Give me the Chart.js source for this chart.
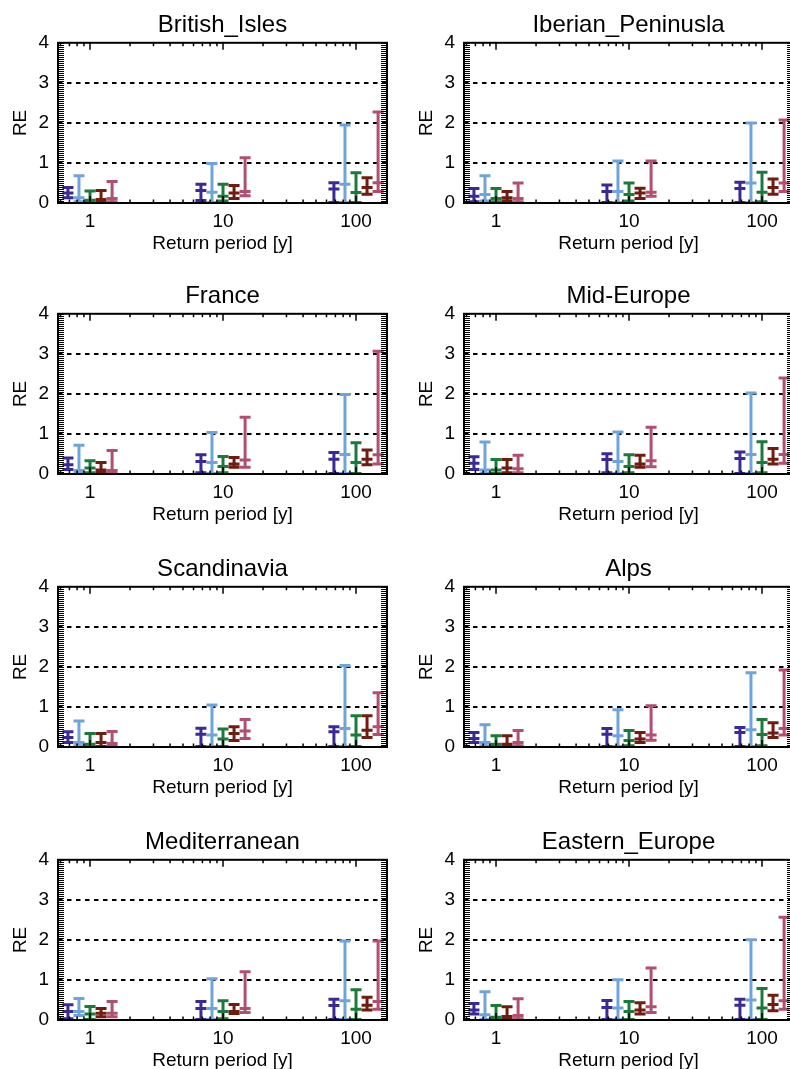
<!DOCTYPE html>
<html>
<head>
<meta charset="utf-8">
<script src="https://cdn.jsdelivr.net/npm/chart.js@4.4.1/dist/chart.umd.min.js"></script>
<style>
  html, body { margin: 0; padding: 0; background: #fff; }
  #wrap { position: relative; width: 790px; height: 1069px; overflow: hidden; }
  #wrap canvas { position: absolute; }
</style>
</head>
<body>
<div id="wrap"></div>
<script>
// regions, one panel each (reading order)
const regions = ['British_Isles', 'Iberian_Peninusla', 'France', 'Mid-Europe',
                 'Scandinavia', 'Alps', 'Mediterranean', 'Eastern_Europe'];
const periods = [1, 10, 100];
const yTicks = [0, 1, 2, 3, 4];
const seriesColors = ['#3b2a96', '#6fa4db', '#1b7a3a', '#701c0f', '#b24e70'];

// per region -> per series -> values at 1, 10, 100 y
const reLow = [
  [[0.12, 0.05, 0.0], [0.02, 0.0, 0.0], [0.0, 0.04, 0.0], [0.0, 0.10, 0.21], [0.02, 0.17, 0.28]],
  [[0.02, 0.0, 0.0], [0.04, 0.0, 0.0], [0.02, 0.04, 0.02], [0.04, 0.10, 0.21], [0.02, 0.16, 0.28]],
  [[0.10, 0.02, 0.0], [0.02, 0.0, 0.0], [0.02, 0.02, 0.0], [0.02, 0.16, 0.22], [0.02, 0.16, 0.24]],
  [[0.10, 0.02, 0.0], [0.0, 0.0, 0.0], [0.0, 0.02, 0.02], [0.02, 0.16, 0.24], [0.02, 0.17, 0.26]],
  [[0.10, 0.0, 0.0], [0.02, 0.0, 0.0], [0.0, 0.0, 0.0], [0.0, 0.15, 0.23], [0.02, 0.20, 0.30]],
  [[0.10, 0.0, 0.0], [0.02, 0.0, 0.0], [0.0, 0.02, 0.02], [0.0, 0.10, 0.23], [0.02, 0.16, 0.29]],
  [[0.02, 0.0, 0.0], [0.10, 0.0, 0.0], [0.0, 0.02, 0.0], [0.07, 0.15, 0.24], [0.07, 0.18, 0.26]],
  [[0.14, 0.0, 0.0], [0.0, 0.0, 0.0], [0.0, 0.0, 0.0], [0.02, 0.14, 0.22], [0.02, 0.18, 0.26]]
];
const reMid = [
  [[0.24, 0.30, 0.34], [0.12, 0.26, 0.46], [0.06, 0.16, 0.25], [0.08, 0.24, 0.38], [0.10, 0.28, 0.50]],
  [[0.16, 0.28, 0.35], [0.20, 0.28, 0.49], [0.10, 0.20, 0.26], [0.12, 0.24, 0.38], [0.10, 0.26, 0.49]],
  [[0.22, 0.30, 0.36], [0.08, 0.28, 0.48], [0.14, 0.18, 0.28], [0.09, 0.24, 0.36], [0.08, 0.34, 0.47]],
  [[0.26, 0.35, 0.38], [0.09, 0.30, 0.48], [0.09, 0.18, 0.28], [0.14, 0.24, 0.36], [0.12, 0.32, 0.48]],
  [[0.23, 0.31, 0.37], [0.10, 0.29, 0.45], [0.06, 0.19, 0.29], [0.10, 0.33, 0.41], [0.08, 0.39, 0.50]],
  [[0.20, 0.31, 0.35], [0.10, 0.27, 0.42], [0.06, 0.15, 0.30], [0.06, 0.19, 0.34], [0.10, 0.29, 0.45]],
  [[0.20, 0.28, 0.35], [0.20, 0.28, 0.47], [0.14, 0.20, 0.26], [0.16, 0.20, 0.36], [0.16, 0.28, 0.45]],
  [[0.24, 0.30, 0.36], [0.12, 0.29, 0.49], [0.06, 0.20, 0.29], [0.08, 0.24, 0.38], [0.10, 0.32, 0.47]]
];
const reHigh = [
  [[0.38, 0.46, 0.50], [0.67, 0.98, 1.94], [0.29, 0.46, 0.75], [0.30, 0.43, 0.62], [0.53, 1.12, 2.27]],
  [[0.35, 0.44, 0.51], [0.67, 1.04, 1.99], [0.35, 0.49, 0.76], [0.28, 0.36, 0.59], [0.49, 1.04, 2.07]],
  [[0.39, 0.47, 0.53], [0.71, 1.03, 1.98], [0.32, 0.43, 0.77], [0.28, 0.40, 0.59], [0.58, 1.41, 3.06]],
  [[0.42, 0.50, 0.54], [0.79, 1.04, 2.02], [0.35, 0.47, 0.80], [0.35, 0.46, 0.63], [0.46, 1.16, 2.39]],
  [[0.37, 0.46, 0.50], [0.64, 1.04, 2.03], [0.33, 0.44, 0.77], [0.33, 0.50, 0.77], [0.38, 0.68, 1.35]],
  [[0.35, 0.45, 0.48], [0.55, 0.92, 1.85], [0.27, 0.40, 0.68], [0.27, 0.35, 0.60], [0.40, 1.02, 1.92]],
  [[0.37, 0.45, 0.51], [0.53, 1.02, 1.97], [0.33, 0.47, 0.75], [0.28, 0.38, 0.56], [0.45, 1.20, 1.97]],
  [[0.40, 0.48, 0.51], [0.70, 1.00, 2.00], [0.35, 0.45, 0.78], [0.32, 0.42, 0.61], [0.52, 1.29, 2.56]]
];

const FONT = '"Liberation Sans", Arial, Helvetica, sans-serif';
const spread = 0.083; // decades between neighbouring bars of one period

// draws the range bars, the box and the little IDL style ticks
const rangeBars = {
  id: 'rangeBars',
  afterDatasetsDraw(chart) {
    const { ctx, chartArea: a, scales: { x, y } } = chart;
    ctx.save();
    ctx.lineWidth = 3;
    ctx.lineCap = 'butt';
    chart.data.datasets.forEach(ds => {
      ctx.strokeStyle = ds.borderColor;
      ds.data.forEach(p => {
        const px = x.getPixelForValue(p.x);
        const yl = y.getPixelForValue(p.lo);
        const ym = y.getPixelForValue(p.y);
        const yh = y.getPixelForValue(p.hi);
        ctx.beginPath();
        ctx.moveTo(px, yl); ctx.lineTo(px, yh);
        [yl, ym, yh].forEach(v => { ctx.moveTo(px - 5.5, v); ctx.lineTo(px + 5.5, v); });
        ctx.stroke();
      });
    });

    // minor ticks on y (both sides)
    ctx.strokeStyle = '#000';
    ctx.lineWidth = 1;
    ctx.beginPath();
    for (let v = 0; v <= 4.001; v += 0.05) {
      const py = Math.round(y.getPixelForValue(v)) + 0.5;
      ctx.moveTo(a.left, py); ctx.lineTo(a.left + 6, py);
      ctx.moveTo(a.right - 6, py); ctx.lineTo(a.right, py);
    }
    ctx.stroke();

    // log ticks on x (top and bottom)
    ctx.lineWidth = 1.5;
    ctx.beginPath();
    [0.1, 1, 10, 100].forEach(d => {
      for (let k = 1; k <= 9; k++) {
        const v = k * d;
        if (v < x.min || v > x.max) continue;
        const px = x.getPixelForValue(v);
        const len = k === 1 ? 7 : 3.5;
        ctx.moveTo(px, a.bottom); ctx.lineTo(px, a.bottom - len);
        ctx.moveTo(px, a.top); ctx.lineTo(px, a.top + len);
      }
    });
    ctx.stroke();

    // box
    ctx.lineWidth = 2;
    ctx.strokeRect(a.left, a.top, a.right - a.left, a.bottom - a.top);
    ctx.restore();
  }
};

const wrap = document.getElementById('wrap');
const colLeft = [0, 406];
const rowTop = [0, 271, 544, 817];

regions.forEach((name, r) => {
  const cv = document.createElement('canvas');
  cv.width = 395;
  cv.height = 271;
  cv.style.left = colLeft[r % 2] + 'px';
  cv.style.top = rowTop[Math.floor(r / 2)] + 'px';
  wrap.appendChild(cv);

  const datasets = seriesColors.map((col, s) => ({
    label: 'series ' + (s + 1),
    borderColor: col,
    backgroundColor: col,
    pointRadius: 0,
    showLine: false,
    data: periods.map((T, k) => ({
      x: T * Math.pow(10, (s - 2) * spread),
      y: reMid[r][s][k],
      lo: reLow[r][s][k],
      hi: reHigh[r][s][k]
    }))
  }));

  new Chart(cv.getContext('2d'), {
    type: 'scatter',
    data: { datasets },
    plugins: [rangeBars],
    options: {
      responsive: false,
      animation: false,
      devicePixelRatio: 1,
      layout: { padding: { left: 0, right: 8, top: 0, bottom: 0 } },
      plugins: {
        legend: { display: false },
        tooltip: { enabled: false },
        title: {
          display: true,
          fullSize: false,
          text: name,
          color: '#000',
          font: { family: FONT, size: 24, weight: 'normal', lineHeight: 1.2 },
          padding: { top: 11, bottom: 3 }
        }
      },
      scales: {
        x: {
          type: 'logarithmic',
          min: 0.5745,
          max: 171,
          afterFit: s => { s.height = 68; },
          afterBuildTicks: s => { s.ticks = periods.map(v => ({ value: v })); },
          grid: { display: false, drawTicks: false },
          border: { display: false },
          ticks: {
            color: '#000',
            font: { family: FONT, size: 19 },
            padding: 7,
            autoSkip: false,
            maxRotation: 0,
            callback: v => String(v)
          },
          title: {
            display: true,
            text: 'Return period [y]',
            color: '#000',
            font: { family: FONT, size: 19, lineHeight: 1.2 },
            padding: { top: 0, bottom: 16 }
          }
        },
        y: {
          min: -0.01,
          max: 4,
          afterFit: s => { s.width = 58; },
          afterBuildTicks: s => { s.ticks = yTicks.map(v => ({ value: v })); },
          grid: {
            drawTicks: false,
            lineWidth: 2,
            color: c => (c.tick && c.tick.value > 0 && c.tick.value < 4) ? '#000' : 'rgba(0,0,0,0)'
          },
          border: { display: false, dash: [4.5, 4.5] },
          ticks: {
            color: '#000',
            font: { family: FONT, size: 19 },
            padding: 9,
            callback: v => String(v)
          },
          title: {
            display: true,
            text: 'RE',
            color: '#000',
            font: { family: FONT, size: 19, lineHeight: 1.2 },
            padding: { top: 9, bottom: 0 }
          }
        }
      }
    }
  });
});
</script>
</body>
</html>
